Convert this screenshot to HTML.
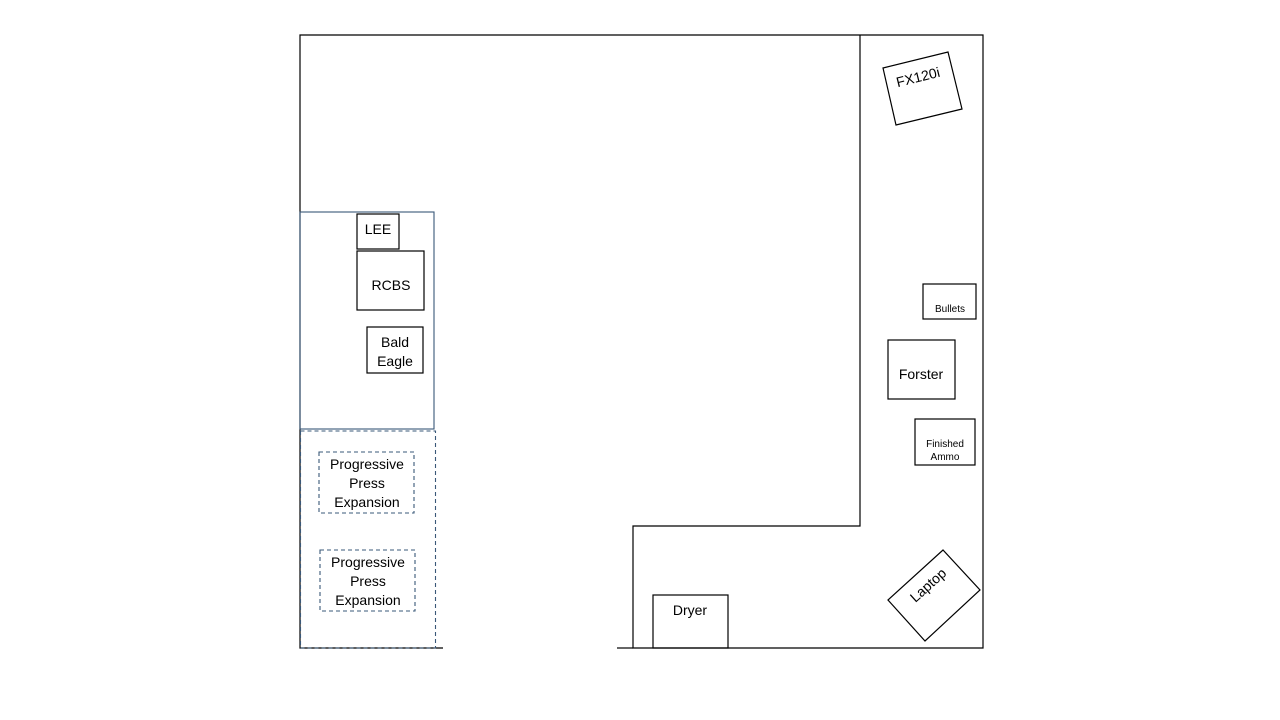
<!DOCTYPE html>
<html><head><style>body{margin:0;background:#fff}svg{display:block}text{font-family:"Liberation Sans",sans-serif;fill:#000}</style></head><body>
<svg width="1280" height="720" viewBox="0 0 1280 720" xmlns="http://www.w3.org/2000/svg">
<g fill="none" stroke="#000" stroke-width="1.2">
<polyline points="443,648 300,648 300,35 983,35 983,648 633,648 633,526 860,526 860,35"/>
<line x1="617" y1="648" x2="633" y2="648"/>
<rect x="357" y="214" width="42" height="35"/>
<rect x="357" y="251" width="67" height="59"/>
<rect x="367" y="327" width="56" height="46"/>
<rect x="923" y="284" width="53" height="35"/>
<rect x="888" y="340" width="67" height="59"/>
<rect x="915" y="419" width="60" height="46"/>
<rect x="653" y="595" width="75" height="53"/>
<polygon points="883,68 948,52 962,109 896,125"/>
<polygon points="888,600 943,550 980,590 925,641"/>
</g>
<g fill="none" stroke="#3a5878" stroke-width="1.1">
<rect x="300" y="212" width="134" height="217"/>
<rect x="300.5" y="431" width="135" height="217" stroke-dasharray="4,3"/>
<rect x="319" y="452" width="95" height="61" stroke-dasharray="4,3"/>
<rect x="320" y="550" width="95" height="61" stroke-dasharray="4,3"/>
</g>
<g font-size="14" text-anchor="middle">
<text x="378" y="234">LEE</text>
<text x="391" y="290">RCBS</text>
<text x="395" y="347">Bald</text><text x="395" y="366">Eagle</text>
<text x="921" y="379">Forster</text>
<text x="690" y="615">Dryer</text>
<text x="367" y="469">Progressive</text><text x="367" y="488">Press</text><text x="367" y="507">Expansion</text>
<text x="368" y="567">Progressive</text><text x="368" y="586">Press</text><text x="368" y="605">Expansion</text>
<text x="918" y="82" transform="rotate(-14 918 77)">FX120i</text>
<text x="928" y="590" transform="rotate(-42 928 585)">Laptop</text>
<text x="950" y="312" font-size="10">Bullets</text>
<text x="945" y="447" font-size="10">Finished</text><text x="945" y="460" font-size="10">Ammo</text>
</g>
</svg>
</body></html>
